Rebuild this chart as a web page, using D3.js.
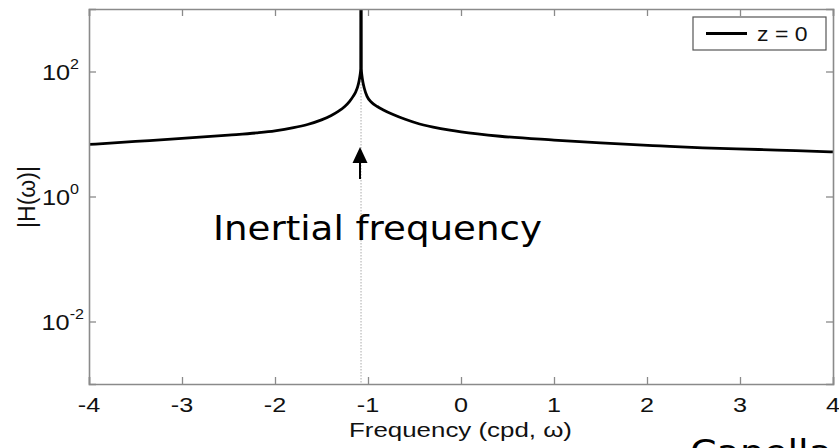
<!DOCTYPE html>
<html><head><meta charset="utf-8">
<script src="https://cdn.jsdelivr.net/npm/d3@7"></script>
<style>html,body{margin:0;padding:0;background:#fff;}</style>
</head><body>
<svg id="c" width="839" height="448"></svg>
<script>
// Frequency (cpd) and |H(omega)| values
const freq = [-4.0,-3.5,-3.0,-2.5,-2.2,-2.0,-1.8,-1.65,-1.5,-1.4,-1.32,-1.25,-1.2,-1.16,-1.13,-1.11,-1.095,-1.085,-1.078,-1.077,-1.073,-1.072,-1.065,-1.055,-1.04,-1.01,-0.96,-0.9,-0.84,-0.73,-0.6,-0.48,-0.3,-0.12,0.0,0.42,1.0,1.5,2.14,2.6,3.2,3.6,4.0];
const mag  = [6.8,7.6,8.5,9.6,10.4,11.2,12.6,14.2,16.8,19.6,23,27.5,33,40,48,58,72,88,110,5000,5000,110,85,68,54,40,32,27.5,24.5,20.5,17.2,15.0,12.9,11.5,10.8,9.2,8.0,7.2,6.45,6.0,5.65,5.4,5.18];
const xTicks = [-4,-3,-2,-1,0,1,2,3,4];
const yTicks = [1e-2,1e0,1e2];
const yTickExp = ["-2","0","2"];
const inertialFreq = -1.075;
const seriesName = "z = 0";

const svg = d3.select("#c");
const L=89,R=833,T=9,B=384;
const x = d3.scaleLinear().domain([-4,4]).range([L,R]);
const y = d3.scaleLog().domain([1e-3,1e3]).range([B,T]);
const axisCol = "#8a8a8a";
const tf = "'Liberation Sans', Arial, sans-serif";

svg.append("defs").append("clipPath").attr("id","clip")
  .append("rect").attr("x",L).attr("y",T).attr("width",R-L).attr("height",B-T);

// dotted line at inertial frequency
svg.append("line").attr("x1",x(inertialFreq)).attr("x2",x(inertialFreq))
  .attr("y1",T).attr("y2",B).attr("stroke","#aaa").attr("stroke-width",1)
  .attr("stroke-dasharray","1.5,1.5");

// curve
const data = freq.map((f,i)=>({f,v:mag[i]}));
svg.append("path").datum(data).attr("clip-path","url(#clip)")
  .attr("fill","none").attr("stroke","#000").attr("stroke-width",2.8)
  .attr("stroke-linejoin","round")
  .attr("d", d3.line().curve(d3.curveMonotoneX).x(d=>x(d.f)).y(d=>y(d.v)));

// axes
const gb = svg.append("g").attr("transform",`translate(0,${B})`)
  .call(d3.axisBottom(x).tickValues(xTicks).tickSize(-7).tickFormat(""));
const gt = svg.append("g").attr("transform",`translate(0,${T})`)
  .call(d3.axisTop(x).tickValues(xTicks).tickSize(-7).tickFormat(""));
const gl = svg.append("g").attr("transform",`translate(${L},0)`)
  .call(d3.axisLeft(y).tickValues(yTicks).tickSize(-7).tickFormat(""));
const gr = svg.append("g").attr("transform",`translate(${R},0)`)
  .call(d3.axisRight(y).tickValues(yTicks).tickSize(-7).tickFormat(""));
[gb,gt,gl,gr].forEach(g=>{
  g.selectAll("path").attr("stroke",axisCol).attr("stroke-width",1.6);
  g.selectAll("line").attr("stroke",axisCol).attr("stroke-width",1.3);
});

// x tick labels
xTicks.forEach(t=>{
  svg.append("text").attr("transform",`translate(${x(t)},412) scale(1.2,1)`)
    .attr("text-anchor","middle").attr("font-family",tf).attr("font-size",21)
    .attr("fill","#111").text(t);
});
// y tick labels
yTicks.forEach((t,i)=>{
  const tx = svg.append("text").attr("transform",`translate(${i===0?84:79},${y(t)+8}) scale(1.15,1)`)
    .attr("text-anchor","end").attr("font-family",tf).attr("font-size",22).attr("fill","#111");
  tx.append("tspan").text("10");
  tx.append("tspan").attr("dy",-11).attr("font-size",14).text(yTickExp[i]);
});

// axis labels
svg.append("text").attr("x",349).attr("y",437).attr("textLength",223)
  .attr("lengthAdjust","spacingAndGlyphs").attr("font-family",tf).attr("font-size",21)
  .attr("fill","#111").text("Frequency (cpd, ω)");
svg.append("text").attr("transform","translate(35,197) rotate(-90)")
  .attr("text-anchor","middle").attr("font-family",tf).attr("font-size",23)
  .attr("fill","#111").text("|H(ω)|");

// legend
svg.append("rect").attr("x",693).attr("y",17).attr("width",133).attr("height",33)
  .attr("fill","#fff").attr("stroke","#555").attr("stroke-width",1.2);
svg.append("line").attr("x1",706).attr("x2",747).attr("y1",33.5).attr("y2",33.5)
  .attr("stroke","#000").attr("stroke-width",3);
svg.append("text").attr("transform","translate(757,41) scale(1.15,1)")
  .attr("font-family",tf).attr("font-size",20).attr("fill","#111").text(seriesName);

// arrow
const ax = x(inertialFreq)-1;
svg.append("line").attr("x1",ax).attr("x2",ax).attr("y1",160).attr("y2",179)
  .attr("stroke","#000").attr("stroke-width",2);
svg.append("path").attr("d",`M${ax},147 L${ax-7.5},163 L${ax+7.5},163 Z`).attr("fill","#000");

// annotations
const af = "'DejaVu Sans', Verdana, sans-serif";
svg.append("text").attr("x",213).attr("y",240).attr("textLength",329)
  .attr("lengthAdjust","spacingAndGlyphs").attr("font-family",af).attr("font-size",34)
  .attr("fill","#000").text("Inertial frequency");
svg.append("text").attr("x",690).attr("y",464).attr("textLength",142)
  .attr("lengthAdjust","spacingAndGlyphs").attr("font-family",af).attr("font-size",34)
  .attr("fill","#000").text("Capella");
</script>
</body></html>
